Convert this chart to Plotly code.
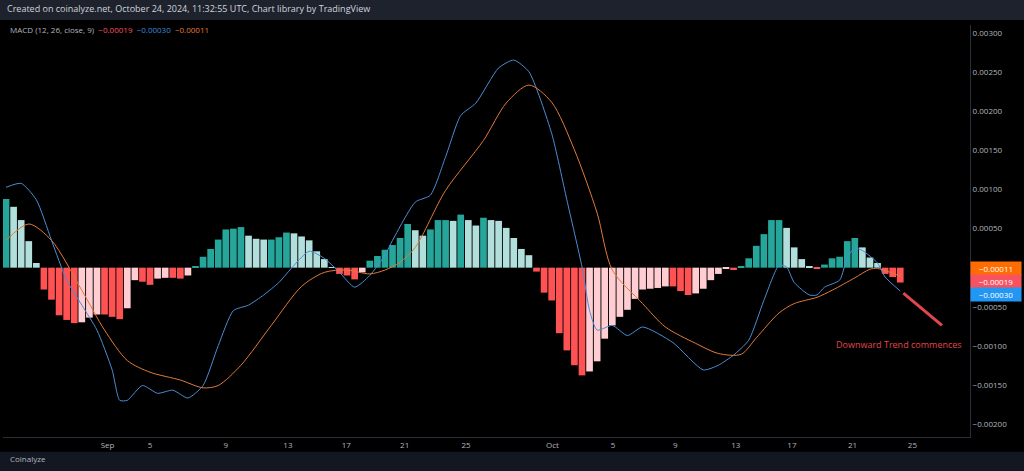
import plotly.graph_objects as go

# MACD histogram (units of 1e-5), one bar per 12h
hist_e5 = [88, 78, 61, 34, 6, -28, -41, -61, -67, -71, -70, -64, -60, -60, -63, -66, -52, -16, -18, -22,
           -14, -13, -13, -14, -10, 2, 14, 24, 36, 49, 50, 52, 41, 37, 36, 36, 39, 45, 44, 40,
           35, 21, 11, 0.5, -8, -10, -15, -6, 9, 15, 23, 29, 38, 56, 48, 41, 49, 61, 61, 60,
           68, 61, 54, 64, 61, 60, 51, 38, 24, 16, -5, -32, -42, -84, -106, -125, -138, -133, -120, -91,
           -74, -63, -54, -40, -28, -27, -26, -24, -24, -30, -35, -33, -27, -16, -8, -1, -3, 1, 12, 28,
           43, 61, 61, 51, 26, 11, 2, -1, 4, 12, 14, 34, 38, 26, 13, 6, -8, -12, -19]
hist = [v * 1e-5 for v in hist_e5]

# MACD line (sampled bar index, value 1e-5)
macd_x = [0, 2, 4, 6, 8, 10, 12, 14, 15, 16, 18, 20, 22, 24, 26, 28, 30, 32, 34, 36, 38, 40, 42, 44, 46,
          48, 50, 51, 54, 56, 58, 60, 62, 65, 67, 69, 72, 74, 76, 77, 78, 80, 82, 84, 88, 92, 94, 96, 98,
          100, 102, 103, 104, 106, 107, 108, 110, 111, 112, 113, 115, 116, 118]
macd_e5 = [103, 108, 87, 35, -16, -48, -80, -131, -170, -170, -151, -161, -157, -167, -151, -100, -55, -48,
           -35, -19, 3, 21, 12, -6, -25, -10, 16, 35, 84, 93, 142, 195, 211, 256, 266, 251, 172, 87, 1,
           -55, -80, -74, -87, -76, -96, -131, -125, -112, -93, -42, 3, 1, -19, -35, -35, -25, -16, 13,
           25, 22, 6, -12, -30]

# Signal line
sig_x = [0, 3, 6, 10, 13, 16, 19, 23, 26, 28, 31, 35, 39, 42, 45, 48, 50, 52, 54, 58, 63, 66, 69, 72, 75,
         78, 80, 84, 87, 91, 94, 97, 99, 102, 104, 107, 109, 112, 114, 115, 118]
sig_e5 = [35, 56, 35, -29, -80, -119, -134, -144, -154, -151, -125, -74, -24, -6, -3, -8, -3, 7, 26, 99,
          163, 211, 234, 212, 151, 70, -3, -46, -76, -97, -110, -111, -90, -58, -46, -38, -29, -13, -2, -1, -11]

tick_pos = [13.4, 19, 29, 37.2, 44.9, 52.6, 60.7, 72.1, 80.1, 88.3, 96.3, 103.7, 111.7, 119.6]
tick_text = ["Sep", "5", "9", "13", "17", "21", "25", "Oct", "5", "9", "13", "17", "21", "25"]
y_ticks = [0.003, 0.0025, 0.002, 0.0015, 0.001, 0.0005, -0.0005, -0.001, -0.0015, -0.002]

# bar colours: rising/falling, above/below zero
colors = []
for i, h in enumerate(hist):
    prev = hist[i - 1] if i > 0 else 0
    if h >= 0:
        colors.append("#26a69a" if h >= prev else "#b2dfdb")
    else:
        colors.append("#ffcdd2" if h > prev else "#ff5252")

fig = go.Figure()
fig.add_trace(go.Bar(x=list(range(len(hist))), y=hist, marker_color=colors, marker_line_width=0))
fig.add_trace(go.Scatter(x=macd_x, y=[v * 1e-5 for v in macd_e5], mode="lines",
                         line=dict(color="#4a8ed6", width=1, shape="spline", smoothing=0.6)))
fig.add_trace(go.Scatter(x=sig_x, y=[v * 1e-5 for v in sig_e5], mode="lines",
                         line=dict(color="#e07b39", width=1, shape="spline", smoothing=0.8)))

fig.update_layout(
    width=1024, height=471, showlegend=False, bargap=0.12,
    margin=dict(l=3, r=54, t=25, b=34),
    paper_bgcolor="#000000", plot_bgcolor="#000000",
    font=dict(family="Open Sans", color="#b2b5be", size=8),
    xaxis=dict(range=[-0.4, 127.2], tickvals=tick_pos, ticktext=tick_text, showgrid=False,
               zeroline=False, showline=True, linecolor="#2a2e39", ticks="", tickfont=dict(size=8)),
    yaxis=dict(range=[-0.00217, 0.00311], side="right", tickvals=y_ticks,
               ticktext=[f"{v:.5f}".replace("-", "\u2212") for v in y_ticks], showgrid=False,
               zeroline=False, showline=True, linecolor="#2a2e39", ticks="", tickfont=dict(size=8)),
)

# header and footer strips
fig.add_shape(type="rect", xref="paper", yref="paper", x0=-0.01, x1=1.06, y0=1.012, y1=1.07,
              fillcolor="#1e222d", line_width=0, layer="below")
fig.add_shape(type="rect", xref="paper", yref="paper", x0=-0.01, x1=1.06, y0=-0.09, y1=-0.036,
              fillcolor="#131722", line_width=0, layer="below")

fig.add_annotation(text="Created on coinalyze.net, October 24, 2024, 11:32:55 UTC, Chart library by TradingView",
                   xref="paper", yref="paper", x=0.002, y=1.04, xanchor="left", yanchor="middle",
                   showarrow=False, font=dict(size=9, color="#d1d4dc"))
fig.add_annotation(text="MACD (12, 26, close, 9)  <span style='color:#f7525f'>\u22120.00019</span>  "
                        "<span style='color:#3d8bd9'>\u22120.00030</span>  "
                        "<span style='color:#e07b39'>\u22120.00011</span>",
                   xref="paper", yref="paper", x=0.005, y=0.99, xanchor="left", yanchor="middle",
                   showarrow=False, font=dict(size=8, color="#b2b5be"))
fig.add_annotation(text="Coinalyze", xref="paper", yref="paper", x=0.005, y=-0.07, xanchor="left",
                   showarrow=False, font=dict(size=8, color="#b2b5be"))

# last value tags on the price scale
for val, col, shift in [(-0.00011, "#ff6d00", 8), (-0.00019, "#f7525f", 1), (-0.00030, "#2196f3", -3)]:
    fig.add_annotation(text=f"{val:.5f}".replace("-", "\u2212"), xref="paper", yref="y", x=1.0, y=val,
                       xanchor="left", yshift=shift, showarrow=False, bgcolor=col, height=11,
                       font=dict(size=8, color="#ffffff"), width=48)

fig.add_shape(type="line", x0=118.4, y0=-0.000327, x1=123.5, y1=-0.00074,
              line=dict(color="#e0474c", width=3))
fig.add_annotation(text="Downward Trend commences", x=117.8, y=-0.00098, showarrow=False,
                   font=dict(size=9, color="#e0474c"))

fig.write_html("out.html", config={"displayModeBar": False},
               post_script="document.body.style.margin='0';document.body.style.background='#000';")
